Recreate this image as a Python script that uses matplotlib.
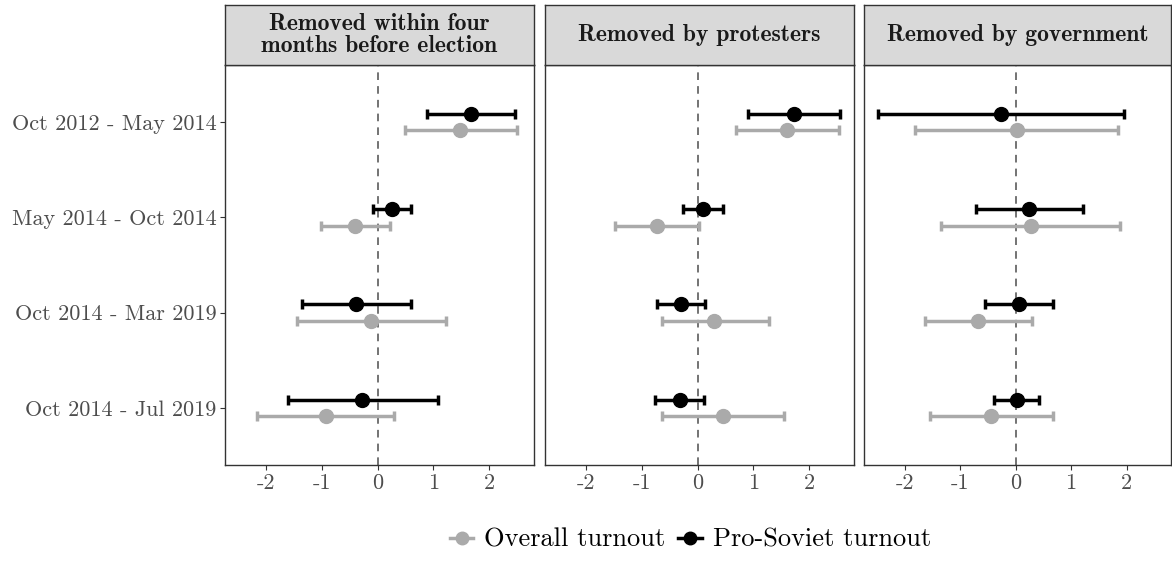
import matplotlib.pyplot as plt
from matplotlib.lines import Line2D

# data
periods = ["Oct 2012 - May 2014", "May 2014 - Oct 2014",
           "Oct 2014 - Mar 2019", "Oct 2014 - Jul 2019"]
panels = ["Removed within four\nmonths before election",
          "Removed by protesters", "Removed by government"]

# estimate, lower, upper  per panel, per period
overall_est = [[1.48, -0.40, -0.11, -0.93],
               [1.60, -0.73, 0.30, 0.45],
               [0.02, 0.27, -0.67, -0.44]]
overall_lo = [[0.49, -1.02, -1.45, -2.15],
              [0.68, -1.48, -0.64, -0.64],
              [-1.82, -1.35, -1.64, -1.55]]
overall_hi = [[2.49, 0.22, 1.23, 0.29],
              [2.54, 0.03, 1.27, 1.55],
              [1.85, 1.88, 0.29, 0.67]]

soviet_est = [[1.68, 0.25, -0.38, -0.27],
              [1.73, 0.10, -0.29, -0.32],
              [-0.26, 0.24, 0.07, 0.02]]
soviet_lo = [[0.89, -0.09, -1.36, -1.61],
             [0.90, -0.26, -0.72, -0.76],
             [-2.48, -0.72, -0.55, -0.39]]
soviet_hi = [[2.46, 0.59, 0.60, 1.08],
             [2.55, 0.46, 0.14, 0.11],
             [1.96, 1.21, 0.68, 0.42]]

xticks = [-2, -1, 0, 1, 2]
xtick_labels = ["-2", "-1", "0", "1", "2"]

W, H = 1172, 581
fig = plt.figure(figsize=(W / 100, H / 100), dpi=100)

gray = "#aaaaaa"
dodge = 0.087
panel_x = [(225, 534), (545, 854), (864, 1171)]
top, bottom = 65, 465

for k, (x0, x1) in enumerate(panel_x):
    ax = fig.add_axes([x0 / W, (H - bottom) / H, (x1 - x0) / W, (bottom - top) / H])
    ys = list(range(len(periods)))
    err_o = [[e - l for e, l in zip(overall_est[k], overall_lo[k])],
             [h - e for e, h in zip(overall_est[k], overall_hi[k])]]
    err_s = [[e - l for e, l in zip(soviet_est[k], soviet_lo[k])],
             [h - e for e, h in zip(soviet_est[k], soviet_hi[k])]]
    ax.axvline(0, color="#4d4d4d", lw=1.1, ls=(0, (5, 4)), zorder=1)
    ax.errorbar(overall_est[k], [y + dodge for y in ys], xerr=err_o, fmt="o",
                color=gray, ms=10, elinewidth=2.5, capsize=3.8, capthick=2.5, zorder=2)
    ax.errorbar(soviet_est[k], [y - dodge for y in ys], xerr=err_s, fmt="o",
                color="black", ms=10, elinewidth=2.5, capsize=3.8, capthick=2.5, zorder=3)
    ax.set_xlim(-2.73, 2.80)
    ax.set_ylim(3.6, -0.6)
    ax.set_xticks(xticks)
    ax.set_xticklabels(xtick_labels, fontfamily="cmr10", fontsize=16, color="#4d4d4d")
    ax.set_yticks(ys)
    if k == 0:
        ax.set_yticklabels(periods, fontfamily="cmr10", fontsize=16, color="#4d4d4d")
    else:
        ax.set_yticklabels([])
    ax.tick_params(axis="both", color="#333333", width=0.8, length=3.5, pad=2.5)
    if k > 0:
        ax.tick_params(axis="y", length=0)
    for s in ax.spines.values():
        s.set_color("#333333")
        s.set_linewidth(1.0)

    # facet strip
    st = fig.add_axes([x0 / W, (H - top) / H, (x1 - x0) / W, (top - 5) / H])
    st.set_facecolor("#d9d9d9")
    st.set_xticks([])
    st.set_yticks([])
    for s in st.spines.values():
        s.set_color("#333333")
        s.set_linewidth(1.0)
    st.text(0.5, 0.5, panels[k], ha="center", va="center", fontfamily="cmb10",
            fontsize=17, color="#1a1a1a", linespacing=1.0, transform=st.transAxes)

handles = [
    Line2D([], [], color=gray, marker="o", ms=9, lw=2.5),
    Line2D([], [], color="black", marker="o", ms=9, lw=2.5),
]
fig.legend(handles, ["Overall turnout", "Pro-Soviet turnout"], loc="center",
           bbox_to_anchor=(0.589, 1 - 540 / H), ncol=2, frameon=False,
           prop={"family": "cmr10", "size": 19}, handlelength=0.9,
           handletextpad=0.4, columnspacing=0.5)

fig.savefig("out.png", dpi=100)
